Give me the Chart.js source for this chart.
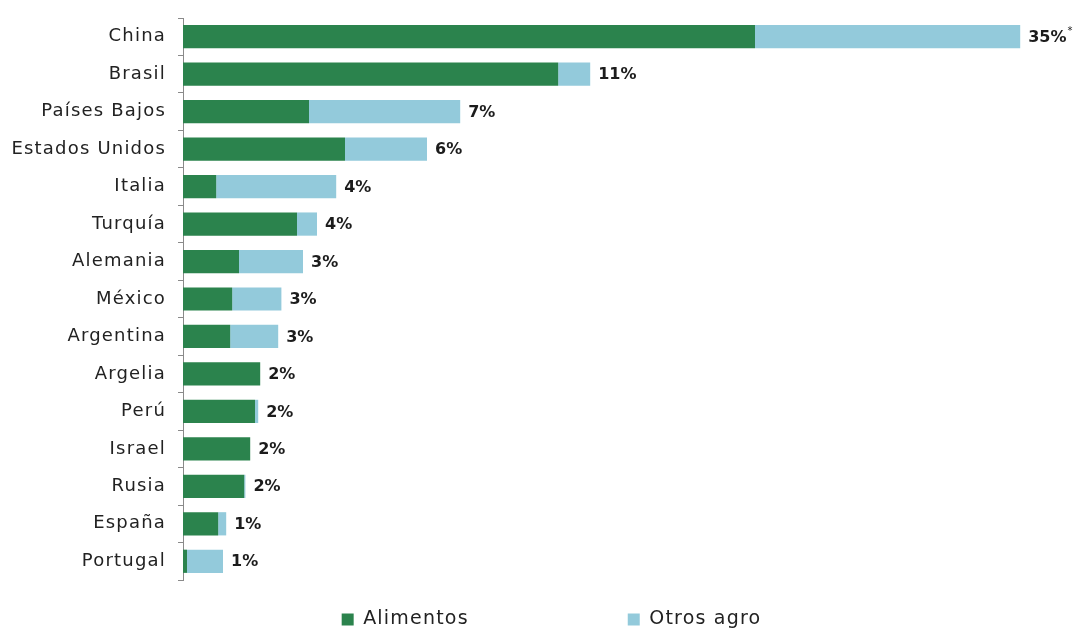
<!DOCTYPE html>
<html><head><meta charset="utf-8">
<script src="https://cdn.jsdelivr.net/npm/chart.js@4.4.1/dist/chart.umd.min.js"></script>
<style>html,body{margin:0;padding:0;background:#fff}</style>
</head><body>
<canvas id="c" width="1077" height="628" style="width:1077px;height:628px;display:block"></canvas>
<script>
const categories = ['China','Brasil','Países Bajos','Estados Unidos','Italia','Turquía','Alemania','México','Argentina','Argelia','Perú','Israel','Rusia','España','Portugal'];
const alimentos = [14.3, 9.38, 3.15, 4.05, 0.83, 2.85, 1.4, 1.23, 1.18, 1.93, 1.8, 1.68, 1.53, 0.88, 0.1];
const otrosAgro = [6.63, 0.8, 3.78, 2.05, 3.0, 0.5, 1.6, 1.23, 1.2, 0, 0.08, 0, 0.03, 0.2, 0.9];
const shareLabels = ['35%*','11%','7%','6%','4%','4%','3%','3%','3%','2%','2%','2%','2%','1%','1%'];
const seriesNames = ['Alimentos','Otros agro'];

const GREEN = '#2b834d';
const BLUE = '#93cadb';
const FONT = '"DejaVu Sans", sans-serif';

const spacing = {
  id: 'spacing',
  beforeUpdate(chart){ chart.ctx.letterSpacing = '1.2px'; },
  beforeDraw(chart){ chart.ctx.letterSpacing = '1.2px'; }
};

const legendSpread = {
  id: 'legendSpread',
  afterLayout(chart){
    const lg = chart.legend;
    if (!lg) return;
    lg.options.labels.padding = 159;
    lg.fit();
    lg.top = 610 - 159;
    lg.bottom = lg.top + lg.height;
    lg.left += 20;
    lg.right += 20;
  }
};

const totalLabels = {
  id: 'totalLabels',
  afterDatasetsDraw(chart){
    const ctx = chart.ctx;
    const m0 = chart.getDatasetMeta(0), m1 = chart.getDatasetMeta(1);
    ctx.save();
    ctx.letterSpacing = '0px';
    ctx.fillStyle = '#1c1c1c';
    ctx.textBaseline = 'middle';
    ctx.textAlign = 'left';
    m1.data.forEach((bar, i) => {
      const x = Math.max(m0.data[i].x, bar.x) + 8;
      let t = shareLabels[i];
      const star = t.endsWith('*');
      if (star) t = t.slice(0, -1);
      ctx.font = 'bold 16px ' + FONT;
      ctx.fillText(t, x, bar.y + 1);
      if (star) {
        const w = ctx.measureText(t).width;
        ctx.font = '10px ' + FONT;
        ctx.fillText('*', x + w + 1, bar.y - 5);
      }
    });
    ctx.restore();
  }
};

new Chart(document.getElementById('c'), {
  type: 'bar',
  data: {
    labels: categories,
    datasets: [
      {label: seriesNames[0], data: alimentos, backgroundColor: GREEN, borderWidth: 0, barPercentage: 0.62, categoryPercentage: 1},
      {label: seriesNames[1], data: otrosAgro, backgroundColor: BLUE, borderWidth: 0, barPercentage: 0.62, categoryPercentage: 1}
    ]
  },
  options: {
    indexAxis: 'y',
    responsive: false,
    animation: false,
    layout: {autoPadding: false, padding: {top: 18, right: 14, bottom: 9, left: 0}},
    scales: {
      x: {stacked: true, display: false, min: 0, max: 22},
      y: {
        stacked: true,
        grid: {display: true, drawOnChartArea: false, drawTicks: true, tickLength: 5, color: '#8a8a8a', offset: true},
        border: {display: true, color: '#8a8a8a', width: 1},
        ticks: {color: '#222', font: {family: FONT, size: 18}, padding: 12},
        afterFit(s){ s.width = 183; s.paddingTop = 0; s.paddingBottom = 0; }
      }
    },
    plugins: {
      legend: {
        position: 'bottom',
        labels: {boxWidth: 12, boxHeight: 12, color: '#222', font: {family: FONT, size: 19}, padding: 10}
      },
      tooltip: {enabled: false},
      title: {display: false}
    }
  },
  plugins: [spacing, legendSpread, totalLabels]
});
</script>
</body></html>
